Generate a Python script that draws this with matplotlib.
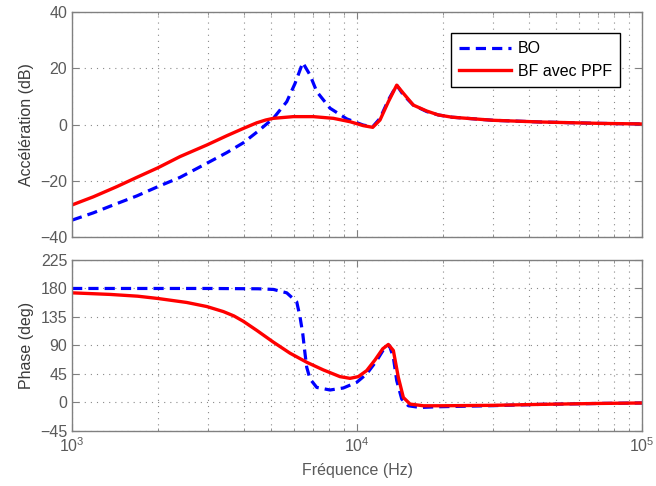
import numpy as np
import matplotlib
matplotlib.use('Agg')
import matplotlib.pyplot as plt
from matplotlib.ticker import LogLocator, NullFormatter, MultipleLocator

# Gain (dB)
freq_gain_bo = [1000, 1188, 1396, 1687, 2000, 2393, 2969, 3490, 3990, 4505, 5085, 5667,
                6060, 6450, 6840, 7222, 8039, 9204, 10520, 11350, 12040, 12880, 13780,
                14540, 15760, 17560, 19290, 21540, 30010, 43850, 71220, 100000]
gain_bo = [-34.0, -31.4, -28.6, -25.4, -22.1, -18.8, -13.8, -10.0, -6.5, -2.3, 2.2, 8.1,
           14.6, 22.0, 17.6, 11.7, 5.8, 2.0, -0.2, -0.8, 2.2, 8.7, 14.0,
           10.5, 6.9, 4.6, 3.4, 2.6, 1.5, 0.9, 0.4, 0.2]

freq_gain_bf = [1000, 1188, 1435, 1687, 2000, 2393, 2969, 3490, 3990, 4446, 4780, 5085, 5977,
                7027, 8257, 9450, 10520, 11350, 12040, 12880, 13780, 14540, 15760, 17560,
                19290, 21540, 30010, 43850, 71220, 100000]
gain_bf = [-28.6, -25.7, -22.1, -18.8, -15.4, -11.4, -7.3, -4.0, -1.4, 0.6, 1.6, 2.2, 2.8,
           2.8, 2.2, 1.0, -0.4, -1.0, 1.6, 8.1, 14.0, 11.1, 6.9, 4.8,
           3.4, 2.6, 1.5, 0.9, 0.4, 0.2]

# Phase (deg)
freq_phase_bo = [1000, 3000, 4500, 5085, 5667, 6144, 6310, 6450, 6570, 6661, 6840, 7222,
                 8039, 8951, 9975, 10810, 11730, 12540, 12980, 13410, 13780, 14350, 15140,
                 16640, 19040, 30010, 43850, 71220, 100000]
phase_bo = [180, 180, 179.5, 178.5, 173.1, 158.8, 135, 108.6, 76.9, 55.6, 37.2, 23.8,
            19.7, 22.9, 31.8, 45.1, 66.2, 87.4, 90, 71.5, 34.5, 5.4, -5.2,
            -7.9, -6.8, -5.0, -3.0, -1.5, -0.8]

freq_phase_bf = [1000, 1360, 1700, 2000, 2526, 2969, 3396, 3700, 3990, 4446, 5085, 5820,
                 6661, 7616, 8715, 9450, 10100, 10810, 11570, 12310, 12880, 13410, 13960,
                 14540, 15350, 17090, 19560, 30010, 43850, 71220, 100000]
phase_bf = [173.1, 170.6, 167.8, 164.2, 157.9, 151.5, 143.5, 136.6, 128.2, 113.9, 95.3, 77.8,
            63.5, 51.4, 40.8, 38.1, 40.8, 50.3, 67.3, 84.8, 91.6, 82.1, 39.7,
            7.9, -2.5, -5.2, -5.2, -4.5, -3.0, -1.5, -0.8]

plt.rcParams['font.family'] = ['Liberation Sans', 'DejaVu Sans']
plt.rcParams['axes.unicode_minus'] = True

tick_col = '#5a5a5a'
label_col = '#3a3a3a'
spine_col = '#808080'

fig = plt.figure(figsize=(6.56, 4.86), dpi=100)
ax1 = fig.add_axes([0.1098, 0.5123, 0.8689, 0.4630])
ax2 = fig.add_axes([0.1098, 0.1132, 0.8689, 0.3519])

blue_style = dict(color='#0000ff', lw=2.3, dashes=(3.2, 1.9))
red_style = dict(color='#ff0000', lw=2.4)

ax1.plot(freq_gain_bo, gain_bo, label='BO', **blue_style)
ax1.plot(freq_gain_bf, gain_bf, label='BF avec PPF', **red_style)
ax2.plot(freq_phase_bo, phase_bo, **blue_style)
ax2.plot(freq_phase_bf, phase_bf, **red_style)

for ax in (ax1, ax2):
    ax.set_xscale('log')
    ax.set_xlim(1e3, 1e5)
    ax.xaxis.set_major_locator(LogLocator(base=10))
    ax.xaxis.set_minor_locator(LogLocator(base=10, subs=np.arange(2, 10)))
    ax.xaxis.set_minor_formatter(NullFormatter())
    ax.grid(True, which='major', ls=(0, (1, 4.5)), color='#8a8a8a', lw=0.8)
    ax.grid(True, which='minor', axis='x', ls=(0, (1, 4.5)), color='#8a8a8a', lw=0.8)
    ax.tick_params(which='both', direction='in', top=True, right=True,
                   colors=spine_col, labelcolor=tick_col, labelsize=11.5)
    ax.tick_params(which='major', length=5, width=0.8)
    ax.tick_params(which='minor', length=2.5, width=0.6)
    for sp in ax.spines.values():
        sp.set_color(spine_col)
        sp.set_linewidth(1.0)

ax1.set_ylim(-40, 40)
ax1.yaxis.set_major_locator(MultipleLocator(20))
ax1.tick_params(axis='x', labelbottom=False)
ax1.set_ylabel('Accélération (dB)', fontsize=11.5, color=label_col, labelpad=4)

ax2.set_ylim(-45, 225)
ax2.yaxis.set_major_locator(MultipleLocator(45))
ax2.set_ylabel('Phase (deg)', fontsize=11.5, color=label_col, labelpad=4)
ax2.set_xlabel('Fréquence (Hz)', fontsize=11.5, color=tick_col, labelpad=6)

leg = ax1.legend(loc='upper right', bbox_to_anchor=(0.975, 0.94), fontsize=11.5,
                 frameon=True, fancybox=False, edgecolor='black', framealpha=1,
                 handlelength=3.3, borderpad=0.5, labelspacing=0.45, handletextpad=0.4)
leg.get_frame().set_linewidth(1.0)

fig.savefig('out.png', dpi=100)
